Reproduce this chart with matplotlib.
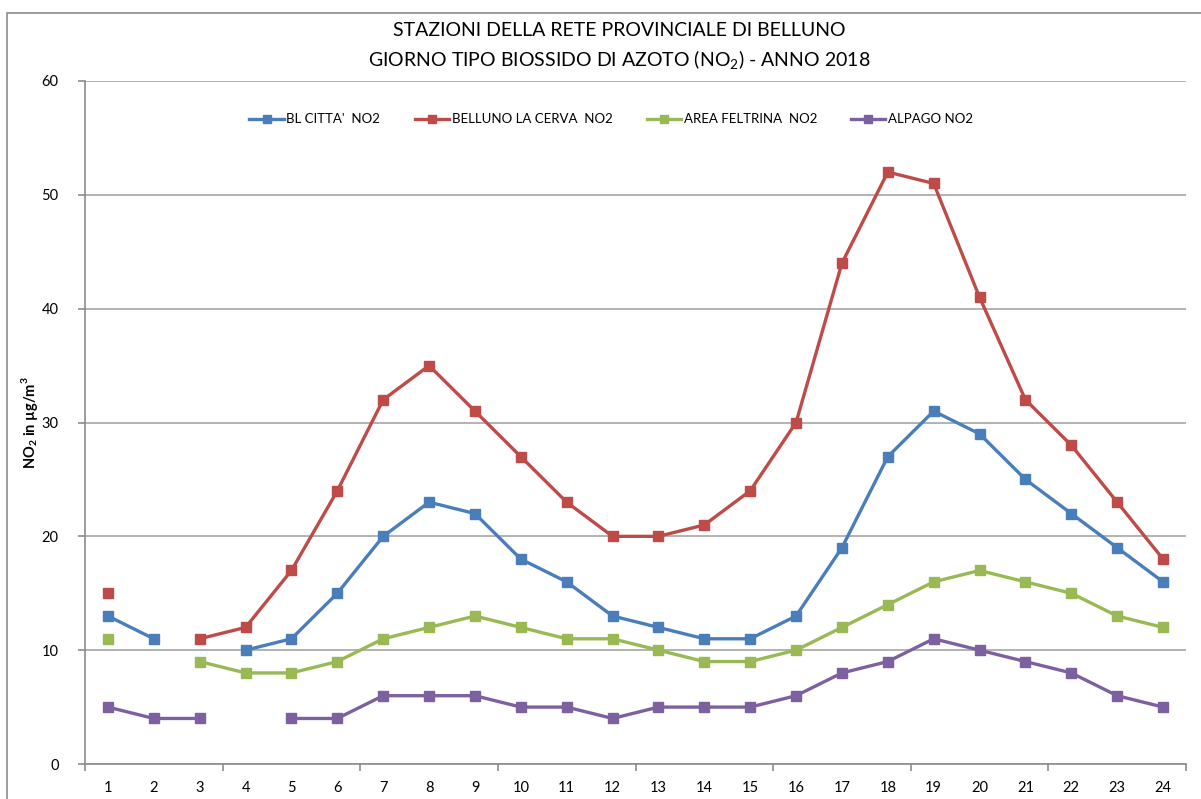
import matplotlib
matplotlib.use('Agg')
import matplotlib.pyplot as plt
import matplotlib.patches as mpatches
import numpy as np

nan = np.nan

hours = list(range(1, 25))

bl_citta = [13, 11, nan, 10, 11, 15, 20, 23, 22, 18, 16, 13,
            12, 11, 11, 13, 19, 27, 31, 29, 25, 22, 19, 16]
la_cerva = [15, nan, 11, 12, 17, 24, 32, 35, 31, 27, 23, 20,
            20, 21, 24, 30, 44, 52, 51, 41, 32, 28, 23, 18]
feltrina = [11, nan, 9, 8, 8, 9, 11, 12, 13, 12, 11, 11,
            10, 9, 9, 10, 12, 14, 16, 17, 16, 15, 13, 12]
alpago = [5, 4, 4, nan, 4, 4, 6, 6, 6, 5, 5, 4,
          5, 5, 5, 6, 8, 9, 11, 10, 9, 8, 6, 5]

series = [
    ("BL CITTA'  NO2", bl_citta, '#4A7EBB'),
    ('BELLUNO LA CERVA  NO2', la_cerva, '#BE4B48'),
    ('AREA FELTRINA  NO2', feltrina, '#98B954'),
    ('ALPAGO NO2', alpago, '#7D60A0'),
]

plt.rcParams['font.family'] = ['Lato', 'DejaVu Sans']
plt.rcParams['mathtext.fontset'] = 'custom'
plt.rcParams['mathtext.rm'] = 'Lato'
plt.rcParams['mathtext.bf'] = 'Lato:bold'

fig = plt.figure(figsize=(12.01, 7.99), dpi=100)
ax = fig.add_axes([85 / 1201, 1 - 764 / 799, (1186 - 85) / 1201, (764 - 81) / 799])

# chart frame (cut off on the right and bottom like the original)
frame = mpatches.Rectangle((7 / 1201, -0.05), 1.1, 1 - 13 / 799 + 0.05,
                           transform=fig.transFigure, fill=False,
                           edgecolor='#8c8c8c', linewidth=1.2, clip_on=False)
fig.patches.append(frame)

for name, vals, col in series:
    ax.plot(hours, vals, color=col, linewidth=2.4, marker='s', markersize=6.5,
            label=name)

ax.set_xlim(0.5, 24.5)
ax.set_ylim(0, 60)
ax.set_yticks(np.arange(0, 61, 10))
ax.yaxis.grid(True, color='#a6a6a6', linewidth=1.2)
ax.set_axisbelow(True)

ax.set_xticks(hours)
ax.set_xticklabels([str(h) for h in hours], fontsize=10.5)
ax.set_xticks(np.arange(0.5, 24.6, 3), minor=True)
ax.tick_params(axis='x', which='major', length=0, pad=12)
ax.tick_params(axis='x', which='minor', length=5, color='#8c8c8c', width=1.2)
ax.tick_params(axis='y', length=5, color='#8c8c8c', width=1.2, labelsize=10.5, pad=14)

for side in ['top', 'right']:
    ax.spines[side].set_visible(False)
for side in ['left', 'bottom']:
    ax.spines[side].set_color('#8c8c8c')
    ax.spines[side].set_linewidth(1.2)

ax.set_ylabel(r'NO$_\mathbf{2}$ in µg/m$^\mathbf{3}$', fontsize=10.5, fontweight='bold')
ax.yaxis.set_label_coords(-0.041, 0.50)

fig.text(0.516, 1 - 30 / 799, 'STAZIONI DELLA RETE PROVINCIALE DI BELLUNO',
         ha='center', va='center', fontsize=14)
fig.text(0.516, 1 - 60 / 799, 'GIORNO TIPO BIOSSIDO DI AZOTO (NO$_2$) - ANNO 2018',
         ha='center', va='center', fontsize=14)

ax.legend(loc='center', bbox_to_anchor=(0.478, 0.944), ncol=4, frameon=False,
          fontsize=9.5, handlelength=2.6, handletextpad=0.2, columnspacing=2.6,
          markerscale=0.8)

fig.savefig('out.png', dpi=100)
